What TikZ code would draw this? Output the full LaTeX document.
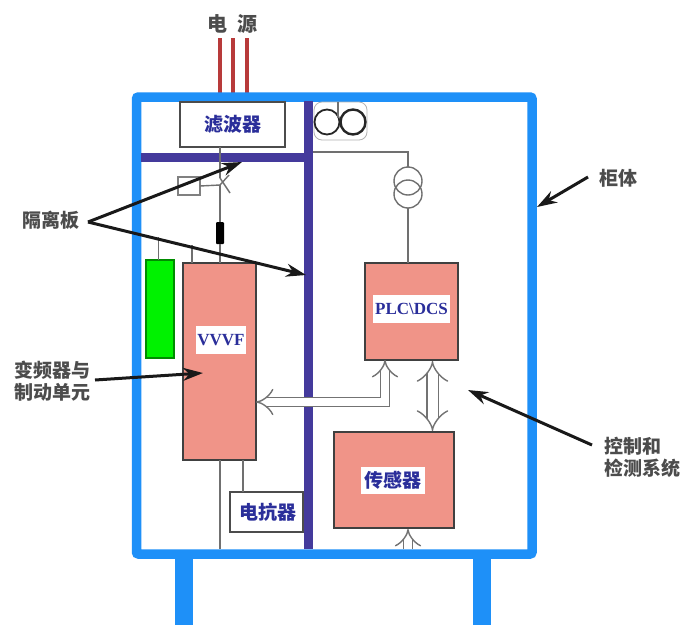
\documentclass[tikz,border=0pt]{standalone}
\usepackage{fontspec}
\setmainfont{Liberation Serif}
\newfontfamily\cjk{Noto Sans CJK SC}
\usetikzlibrary{arrows,arrows.meta,calc}
\definecolor{frameblue}{HTML}{1E90F8}
\definecolor{barviolet}{HTML}{443A9C}
\definecolor{salmon}{HTML}{F09488}
\definecolor{inkblue}{HTML}{2A2E9A}
\definecolor{wire}{HTML}{707070}
\definecolor{feed}{HTML}{B83A3A}
\tikzset{
  x=1pt,y=-1pt,
  every node/.style={outer sep=0pt},
  block/.style={draw=black!75,line width=2pt,fill=salmon,inner sep=0pt,anchor=north west},
  whitebox/.style={draw=black!70,line width=2pt,fill=white,inner sep=0pt,anchor=north west},
  lab/.style={font=\cjk\bfseries\fontsize{19}{22}\selectfont,text=black!70,align=left,inner sep=0pt},
  bluecn/.style={font=\cjk\bfseries\fontsize{19}{22}\selectfont,text=inkblue,inner sep=0pt},
  bluelat/.style={font=\bfseries\fontsize{17}{20}\selectfont,text=inkblue,fill=white,inner sep=0pt},
  wireline/.style={draw=wire,line width=1.4pt},
  callout/.style={draw=black!90,line width=3pt,-{Stealth[length=20pt,width=13pt]}},
  hollow/.style={draw=black!55,line width=1.4pt,double=white,double distance=#1,line join=miter},
  bothtips/.style={{Implies}-{Implies}},
  onetip/.style={-{Implies}},
  feedline/.style={draw=feed,line width=4.5pt},
  barline/.style={draw=barviolet,line width=8.5pt},
}
\begin{document}
\begin{tikzpicture}
\useasboundingbox (0,0) rectangle (682,625);
\fill[white] (0,0) rectangle (682,625);
% legs
\fill[frameblue] (175,558) rectangle (193,625);
\fill[frameblue] (473,558) rectangle (491,625);
% power feed
\node[lab,font=\cjk\bfseries\fontsize{20}{22}\selectfont] (power) at (232,24) {电\hspace{10pt}源};
\coordinate (s1) at (220,38); \coordinate (s2) at (233,38); \coordinate (s3) at (247,38);
\coordinate (f1) at (220,93); \coordinate (f2) at (233,93); \coordinate (f3) at (247,93);
\draw[feedline] (s1) -- (f1);
\draw[feedline] (s2) -- (f2);
\draw[feedline] (s3) -- (f3);
% frame
\node[draw=frameblue,line width=9.5pt,rounded corners=2pt,minimum width=395.5pt,minimum height=457pt,inner sep=0pt,anchor=north west] (frame) at (136.5,97) {};
% partition bars
\coordinate (hl) at (141,157.5); \coordinate (hr) at (313,157.5);
\coordinate (vt) at (308.5,101); \coordinate (vb) at (308.5,549);
\draw[barline] (hl) -- (hr);
\draw[barline] (vt) -- (vb);
% blocks
\node[block,minimum width=73pt,minimum height=197pt] (vvvf) at (183,263) {};
\node[bluelat,minimum width=50pt,minimum height=28pt] at (221,340) {VVVF};
\node[draw=green!55!black,line width=1.5pt,fill=green!95!black,minimum width=28pt,minimum height=98pt,inner sep=0pt,anchor=north west] (green) at (146,260) {};
\node[whitebox,minimum width=105pt,minimum height=45pt] (filter) at (180,102) {};
\node[bluecn] at (233,124) {滤波器};
\node[block,minimum width=93pt,minimum height=97pt] (plc) at (365,263) {};
\node[bluelat,minimum width=77pt,minimum height=28pt] at (411.5,309) {PLC\textbackslash DCS};
\node[block,minimum width=120pt,minimum height=96pt] (sensor) at (334,432) {};
\node[bluecn,fill=white,minimum width=64pt,minimum height=27pt] at (393,480.5) {传感器};
\node[whitebox,minimum width=73pt,minimum height=40pt] (react) at (230,492) {};
\node[bluecn] at (267.5,512) {电抗器};
% breaker and fuse on the main wire
\node[draw=black!50,fill=white,line width=1.2pt,minimum width=22pt,minimum height=18pt,inner sep=0pt,anchor=north west] (brk) at (178,177) {};
\node[fill=black,minimum width=8pt,minimum height=22pt,rounded corners=1pt,inner sep=0pt] (fuse) at (220,233) {};
\coordinate (bjoint) at (220,185);
\coordinate (bup) at (229,175);
\coordinate (bdown) at (230,193);
\coordinate (btop) at (220,178);
\draw[wireline] (filter.south -| bjoint) -- (btop);
\draw[wireline] (brk.east) -- (bjoint);
\draw[wireline] (bjoint) -- (fuse.north);
\draw[wireline] (bjoint) -- (bup);
\draw[wireline] (btop) -- (bdown);
\draw[wireline] (fuse.south) -- (fuse.south |- vvvf.north);
% stubs
\coordinate (gtop) at (158.5,237);
\coordinate (vtop) at (192,245);
\draw[wireline] (gtop) -- (gtop |- green.north);
\draw[wireline] (vtop) -- (vtop |- vvvf.north);
% wires below
\coordinate (bottomW) at (220,549);
\coordinate (reactW) at (243,460);
\draw[wireline] (bottomW |- vvvf.south) -- (bottomW);
\draw[wireline,line width=2.4pt] (reactW) -- (reactW |- react.north);
% motor-side transformer
\node[draw=black!30,line width=.8pt,rounded corners=8pt,minimum width=53pt,minimum height=38pt,inner sep=0pt] (cc) at (340.5,121) {};
\node[draw=black!85,line width=1.8pt,circle,minimum size=25pt,inner sep=0pt] (c1) at (327,122) {};
\node[draw=black!85,line width=2.4pt,circle,minimum size=25pt,inner sep=0pt] (c2) at (353,122) {};
\coordinate (ctop) at (338,102);
\draw[wireline] (ctop) -- (338,118);
% control transformer
\node[draw=wire,line width=1.4pt,circle,minimum size=28pt,inner sep=0pt] (t1) at (408,181) {};
\node[draw=wire,line width=1.4pt,circle,minimum size=28pt,inner sep=0pt] (t2) at (408,194) {};
\coordinate (wstart) at (313,152);
\draw[wireline] (wstart) -- (t1.north |- wstart) -- (t1.north);
\draw[wireline] (t2.south) -- (t2.south |- plc.north);
% hollow arrows
\coordinate (lcorner) at (385,402);
\draw[hollow=8pt,bothtips] (vvvf.east |- lcorner) -- (lcorner) -- (lcorner |- plc.south);
\draw[hollow=10pt,bothtips] (432.5,361) -- (432.5,431);
\draw[hollow=8pt,onetip] (408,549) -- (408,529);
% callouts
\node[lab] (geli) at (51,220) {隔离板};
\node[lab] (bp) at (52,381) {变频器与\\制动单元};
\node[lab] (gui) at (618,178) {柜体};
\node[lab] (ctl) at (642,457) {控制和\\检测系统};
\coordinate (g0) at (88,222);
\draw[callout] (g0) -- (242,162);
\draw[callout] (g0) -- (306,275);
\draw[callout] (95,380) -- (203,373);
\draw[callout] (588,177) -- (537,207);
\draw[callout] (592,445) -- (468,390);
\end{tikzpicture}
\end{document}
